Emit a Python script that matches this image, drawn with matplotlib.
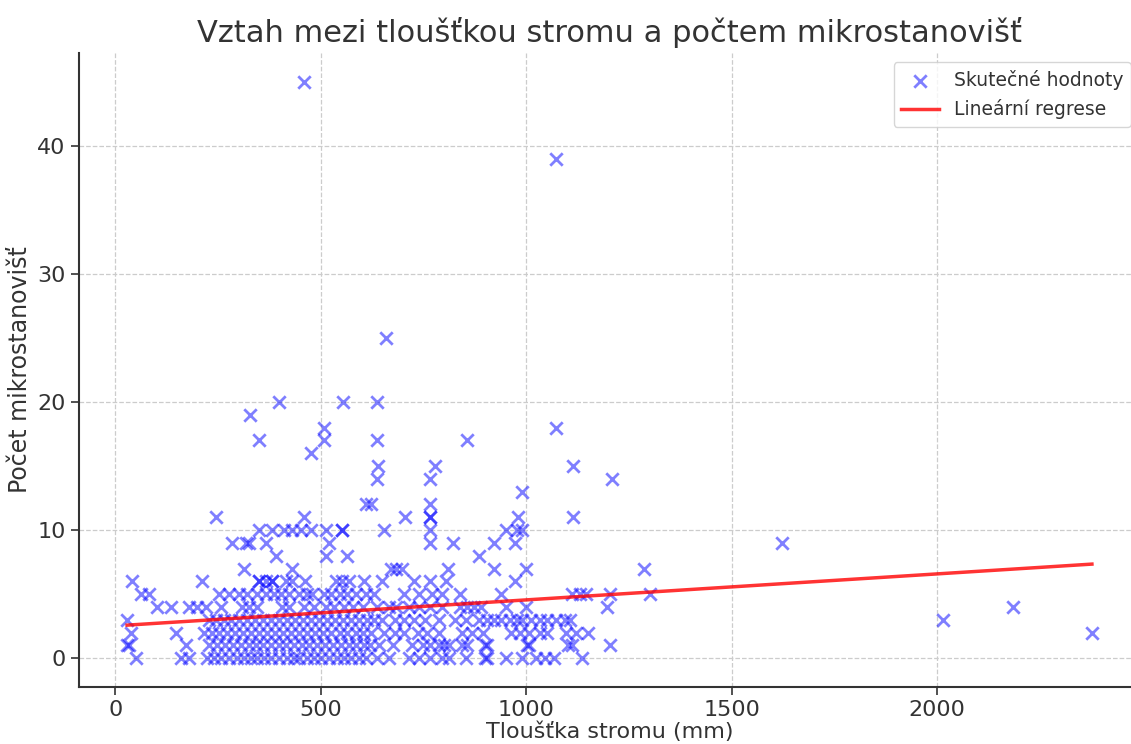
import numpy as np
import matplotlib
matplotlib.use("Agg")
import matplotlib.pyplot as plt

plt.rcParams['font.family'] = ['DejaVu Sans']

# tree thickness (mm) per number of microhabitats
rows = {
    0: [51, 161, 180, 224, 241, 258, 278, 297, 314, 331, 346, 363, 380, 399, 419, 436,
        448, 468, 485, 502, 521, 541, 558, 575, 594, 611, 636, 667, 716, 740, 765, 796,
        813, 855, 899, 906, 952, 989, 1025, 1045, 1069, 1135],
    1: [29, 34, 173, 229, 248, 268, 287, 307, 326, 343, 360, 380, 399, 416, 436, 455,
        472, 492, 511, 531, 550, 570, 587, 606, 619, 643, 675, 723, 748, 767, 789, 801,
        813, 843, 857, 899, 906, 1003, 1008, 1101, 1111, 1203],
    2: [39, 149, 217, 236, 253, 273, 292, 312, 331, 351, 370, 390, 409, 429, 448, 468,
        487, 507, 526, 546, 565, 585, 604, 623, 655, 680, 704, 736, 760, 789, 845, 869,
        894, 964, 984, 1008, 1033, 1050, 1098, 1122, 1150, 2377],
    3: [29, 229, 246, 265, 283, 302, 321, 341, 360, 380, 399, 419, 438, 458, 477, 497,
        516, 536, 555, 575, 594, 614, 631, 650, 680, 704, 728, 753, 789, 826, 855, 886,
        906, 923, 940, 960, 979, 991, 1013, 1033, 1052, 1074, 1094, 1106, 2014],
    4: [102, 136, 180, 200, 222, 258, 309, 326, 346, 407, 424, 460, 485, 514, 533, 558,
        580, 602, 636, 667, 684, 716, 740, 765, 796, 838, 857, 874, 891, 952, 1001, 1198,
        2185],
    5: [63, 83, 253, 278, 302, 321, 346, 368, 387, 404, 424, 448, 468, 480, 509, 526,
        546, 565, 587, 611, 631, 704, 740, 770, 796, 838, 940, 1111, 1130, 1147, 1203,
        1301],
    6: [41, 212, 351, 351, 368, 382, 382, 416, 431, 463, 538, 553, 570, 606, 650, 728,
        765, 806, 972],
    7: [314, 431, 672, 684, 697, 811, 923, 1001, 1288],
    8: [392, 514, 563, 886],
    9: [285, 319, 326, 368, 521, 765, 821, 923, 972, 1622],
    10: [351, 382, 412, 431, 453, 477, 514, 553, 553, 655, 765, 952, 977, 991],
    11: [246, 460, 706, 765, 765, 981, 1113],
    12: [611, 623, 765],
    13: [989],
    14: [638, 765, 1210],
    15: [640, 779, 1113],
    16: [477],
    17: [351, 509, 638, 857],
    18: [509, 1072],
    19: [329],
    20: [399, 555, 638],
    25: [658],
    39: [1074],
    45: [460],
}

# regression line as shown in the chart
reg_intercept = 2.52
reg_slope = 0.00203

thickness = np.array([x for y, xs in rows.items() for x in xs], dtype=float)
count = np.array([y for y, xs in rows.items() for x in xs], dtype=float)

x_line = np.array([thickness.min(), thickness.max()])

fig = plt.figure(figsize=(11.31, 7.44), dpi=100)
ax = fig.add_axes([79 / 1131, 57 / 744, 1061 / 1131, 634 / 744])

ax.scatter(thickness, count, marker='x', s=80, color='blue', alpha=0.5,
           linewidths=2, label='Skutečné hodnoty', zorder=3)
ax.plot(x_line, reg_intercept + reg_slope * x_line, color='red', linewidth=2.5,
        alpha=0.8, label='Lineární regrese', zorder=4)

ax.set_xlim(-88, 2494)
ax.set_ylim(-2.25, 47.25)
ax.set_xticks([0, 500, 1000, 1500, 2000])
ax.set_yticks([0, 10, 20, 30, 40])

ax.grid(True, linestyle='--', color='#cccccc', linewidth=0.9)
ax.set_axisbelow(True)
for side in ['top', 'right']:
    ax.spines[side].set_visible(False)
for side in ['left', 'bottom']:
    ax.spines[side].set_color('#333333')
    ax.spines[side].set_linewidth(1.5)
ax.tick_params(axis='both', labelsize=16, colors='#333333', length=6, width=1.2)

ax.set_title('Vztah mezi tloušťkou stromu a počtem mikrostanovišť',
             fontsize=22, color='#333333', pad=8)
ax.set_xlabel('Tloušťka stromu (mm)', fontsize=16, color='#333333', labelpad=1)
ax.set_ylabel('Počet mikrostanovišť', fontsize=17, color='#333333')

leg = ax.legend(loc='upper right', fontsize=13.5, frameon=True)
leg.get_frame().set_edgecolor('#cccccc')
for t in leg.get_texts():
    t.set_color('#333333')

plt.savefig('out.png', dpi=100)
